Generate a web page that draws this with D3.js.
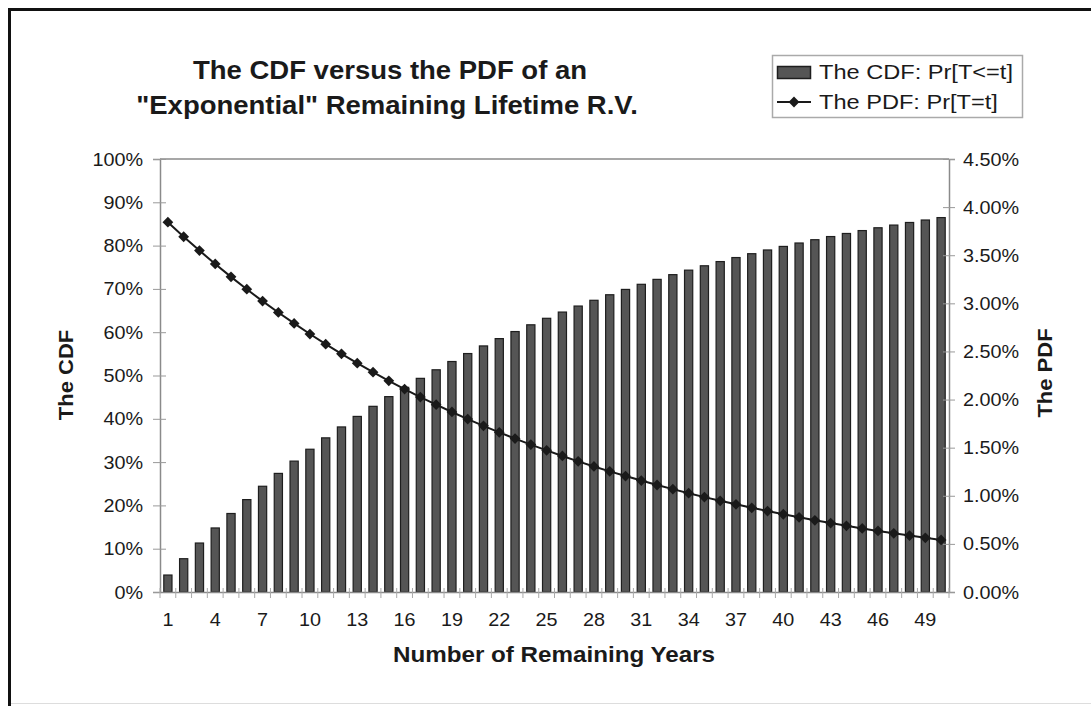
<!DOCTYPE html>
<html>
<head>
<meta charset="utf-8">
<script src="https://cdn.jsdelivr.net/npm/d3@7/dist/d3.min.js"></script>
<style>
html,body{margin:0;padding:0;background:#fff;}
svg{display:block;font-family:"Liberation Sans",Arial,sans-serif;}
</style>
</head>
<body>
<svg id="chart" width="1091" height="706"></svg>
<script>
// ---- data ----
const years = d3.range(1, 51);
const cdfValues = [3.92,7.69,11.31,14.79,18.13,21.34,24.42,27.39,30.23,32.97,
  35.60,38.12,40.55,42.88,45.12,47.27,49.34,51.32,53.23,55.07,
  56.83,58.52,60.15,61.71,63.21,64.65,66.04,67.37,68.65,69.88,
  71.06,72.20,73.29,74.33,75.34,76.31,77.24,78.13,78.99,79.81,
  80.60,81.36,82.09,82.80,83.47,84.12,84.74,85.34,85.91,86.47];
const pdfValues = [3.843,3.692,3.548,3.409,3.275,3.147,3.023,2.905,2.791,2.681,
  2.576,2.475,2.378,2.285,2.195,2.109,2.026,1.947,1.871,1.797,
  1.727,1.659,1.594,1.532,1.472,1.414,1.358,1.305,1.254,1.205,
  1.158,1.112,1.069,1.027,0.986,0.948,0.911,0.875,0.841,0.808,
  0.776,0.745,0.716,0.688,0.661,0.635,0.610,0.586,0.563,0.541];
const leftTicks = [0,10,20,30,40,50,60,70,80,90,100];
const rightTicks = [0,0.5,1,1.5,2,2.5,3,3.5,4,4.5];
const xTickLabels = [1,4,7,10,13,16,19,22,25,28,31,34,37,40,43,46,49];
const titleLines = ["The CDF versus the PDF of an", "\"Exponential\" Remaining Lifetime R.V."];
const seriesNames = ["The CDF: Pr[T<=t]", "The PDF: Pr[T=t]"];

// ---- layout ----
const SX = 1.1; // horizontal text stretch seen in the reference
const plot = {left:160, top:159, right:949, bottom:592};
const svg = d3.select("#chart");

const x = d3.scaleBand().domain(years).range([plot.left, plot.right]).paddingInner(0.48).paddingOuter(0.24);
const xb = d3.scaleBand().domain(years).range([plot.left, plot.right]);
const yL = d3.scaleLinear().domain([0,100]).range([plot.bottom, plot.top]);
const yR = d3.scaleLinear().domain([0,4.5]).range([plot.bottom, plot.top]);

function stext(g, str, px, py, size, anchor, weight, rot, sx){
  const t = g.append("text")
    .attr("transform", `translate(${px},${py})` + (rot ? ` rotate(${rot})` : "") + ` scale(${sx || SX},1)`)
    .attr("text-anchor", anchor).attr("font-size", size).attr("fill", "#1a1a1a")
    .text(str);
  if (weight) t.attr("font-weight", weight);
  return t;
}

// outer frame
svg.append("line").attr("x1",9).attr("x2",1091).attr("y1",9.5).attr("y2",9.5).attr("stroke","#111").attr("stroke-width",3);
svg.append("line").attr("x1",9.5).attr("x2",9.5).attr("y1",8).attr("y2",706).attr("stroke","#111").attr("stroke-width",3);
svg.append("line").attr("x1",11).attr("x2",1091).attr("y1",703.5).attr("y2",703.5).attr("stroke","#ddd").attr("stroke-width",1);

// title
const tg = svg.append("g");
stext(tg, titleLines[0], 390, 79, 25, "middle", "bold");
stext(tg, titleLines[1], 387, 114, 25, "middle", "bold");

// plot frame (top line)
svg.append("line").attr("x1",plot.left).attr("x2",plot.right).attr("y1",plot.top).attr("y2",plot.top)
  .attr("stroke","#8a8a8a").attr("stroke-width",1.5);

// bars
svg.append("g").selectAll("rect").data(years).join("rect")
  .attr("x", d => x(d))
  .attr("width", x.bandwidth())
  .attr("y", (d,i) => yL(cdfValues[i]))
  .attr("height", (d,i) => plot.bottom - yL(cdfValues[i]))
  .attr("fill", "#555").attr("stroke", "#1e1e1e").attr("stroke-width", 1.2);

// left axis
const gl = svg.append("g").attr("transform", `translate(${plot.left},0)`)
  .call(d3.axisLeft(yL).tickValues(leftTicks).tickFormat(d => d + "%").tickSize(7).tickPadding(0));
gl.select(".domain").attr("stroke","#8a8a8a").attr("stroke-width",1.5);
gl.selectAll(".tick line").attr("x1",-7).attr("x2",6).attr("stroke","#999");
gl.selectAll(".tick text").attr("x",null).attr("dy",null)
  .attr("transform", `translate(-17,6) scale(${SX},1)`)
  .attr("font-size",18).attr("font-family","Liberation Sans, Arial, sans-serif").attr("fill","#1a1a1a");

// right axis
const gr = svg.append("g").attr("transform", `translate(${plot.right},0)`)
  .call(d3.axisRight(yR).tickValues(rightTicks).tickFormat(d => d.toFixed(2) + "%").tickSize(6).tickPadding(0));
gr.select(".domain").attr("stroke","#8a8a8a").attr("stroke-width",1.5);
gr.selectAll(".tick line").attr("x1",-6).attr("x2",6).attr("stroke","#999");
gr.selectAll(".tick text").attr("x",null).attr("dy",null)
  .attr("transform", `translate(14,6) scale(${SX},1)`)
  .attr("font-size",18).attr("font-family","Liberation Sans, Arial, sans-serif").attr("fill","#1a1a1a");

// bottom axis
const gb = svg.append("g").attr("transform", `translate(0,${plot.bottom})`)
  .call(d3.axisBottom(xb).tickValues(xTickLabels).tickSize(0).tickPadding(0));
gb.select(".domain").attr("stroke","#8a8a8a").attr("stroke-width",1.5);
gb.selectAll(".tick text").attr("y",null).attr("dy",null)
  .attr("transform", `translate(0,34) scale(${SX},1)`)
  .attr("font-size",18).attr("font-family","Liberation Sans, Arial, sans-serif").attr("fill","#1a1a1a");
// boundary ticks between categories
svg.append("g").selectAll("line").data(years.concat([51])).join("line")
  .attr("x1", d => d <= 50 ? xb(d) : plot.right)
  .attr("x2", d => d <= 50 ? xb(d) : plot.right)
  .attr("y1", plot.bottom - 4).attr("y2", plot.bottom + 6)
  .attr("stroke", "#aaa").attr("stroke-width", 1);

// PDF line
const line = d3.line().x(d => x(d) + x.bandwidth()/2).y((d,i) => yR(pdfValues[i]));
svg.append("path").datum(years).attr("d", line)
  .attr("fill","none").attr("stroke","#1a1a1a").attr("stroke-width",2);
svg.append("g").selectAll("path").data(years).join("path")
  .attr("d", d3.symbol().type(d3.symbolSquare).size(58))
  .attr("transform", (d,i) => `translate(${x(d) + x.bandwidth()/2},${yR(pdfValues[i])}) rotate(45)`)
  .attr("fill","#1a1a1a");

// axis titles
stext(svg, "The CDF", 73, 375, 20, "middle", "bold", -90);
stext(svg, "The PDF", 1052, 373, 20, "middle", "bold", -90);
stext(svg, "Number of Remaining Years", 554, 662, 22, "middle", "bold");

// legend
const lg = svg.append("g");
lg.append("rect").attr("x",772.5).attr("y",55.5).attr("width",250).attr("height",62)
  .attr("fill","#fff").attr("stroke","#aaa").attr("stroke-width",1.5);
lg.append("rect").attr("x",777.5).attr("y",66.5).attr("width",33).attr("height",12)
  .attr("fill","#555").attr("stroke","#1e1e1e").attr("stroke-width",1.5);
lg.append("line").attr("x1",777).attr("x2",811).attr("y1",102).attr("y2",102)
  .attr("stroke","#1a1a1a").attr("stroke-width",2);
lg.append("path").attr("d", d3.symbol().type(d3.symbolSquare).size(58))
  .attr("transform","translate(794,102) rotate(45)").attr("fill","#1a1a1a");
stext(lg, seriesNames[0], 819, 79, 20, "start", null, null, 1.18);
stext(lg, seriesNames[1], 819, 109, 20, "start", null, null, 1.18);
</script>
</body>
</html>
